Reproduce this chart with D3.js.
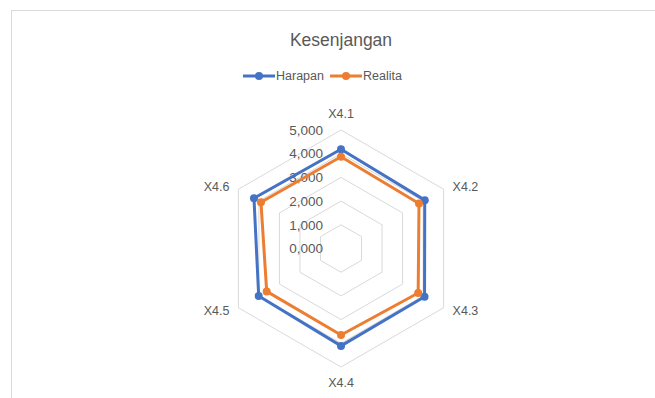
<!DOCTYPE html>
<html>
<head>
<meta charset="utf-8">
<script src="https://cdn.jsdelivr.net/npm/d3@7"></script>
<style>
  body { margin: 0; background: #fff; }
  text { font-family: "Liberation Sans", "DejaVu Sans", sans-serif; fill: #595959; }
</style>
</head>
<body>
<script>
const WIDTH = 655;
const HEIGHT = 398;
const CX = 341;
const CY = 248.5;
const RADIUS = 118.5;

const categories = ["X4.1", "X4.2", "X4.3", "X4.4", "X4.5", "X4.6"];
const harapan = [4.19, 4.08, 4.07, 4.11, 4.01, 4.24];
const realita = [3.87, 3.80, 3.76, 3.65, 3.62, 3.90];
const ticks = [0, 1, 2, 3, 4, 5];
const seriesNames = ["Harapan", "Realita"];
const colors = ["#4472C4", "#ED7D31"];

const svg = d3.select("body").append("svg")
    .attr("width", WIDTH)
    .attr("height", HEIGHT);

// chart frame (runs off the right/bottom edge in the picture)
svg.append("rect")
    .attr("x", 11.5).attr("y", 10.5)
    .attr("width", 700).attr("height", 420)
    .attr("fill", "none")
    .attr("stroke", "#d9d9d9");

const r = d3.scaleLinear().domain([0, 5]).range([0, RADIUS]);
const angle = d3.scalePoint().domain(categories).range([0, 2 * Math.PI * 5 / 6]);

function px(cat, v) { return CX + r(v) * Math.sin(angle(cat)); }
function py(cat, v) { return CY - r(v) * Math.cos(angle(cat)); }

const g = svg.append("g");

// grid hexagons
g.selectAll(".grid")
    .data(ticks.slice(1)).enter()
    .append("polygon")
    .attr("class", "grid")
    .attr("points", t => categories.map(c => px(c, t) + "," + py(c, t)).join(" "))
    .attr("fill", "none")
    .attr("stroke", "#d9d9d9")
    .attr("stroke-width", 1);

// value labels along first axis
g.selectAll(".ticklabel")
    .data(ticks).enter()
    .append("text")
    .attr("class", "ticklabel")
    .attr("x", CX - 18)
    .attr("y", t => CY - r(t))
    .attr("dy", "0.35em")
    .attr("text-anchor", "end")
    .attr("font-size", 13.5)
    .text(t => d3.format(".3f")(t).replace(".", ","));

// category labels
g.selectAll(".catlabel")
    .data(categories).enter()
    .append("text")
    .attr("class", "catlabel")
    .attr("font-size", 12.5)
    .attr("x", c => {
        const s = Math.sin(angle(c));
        return px(c, 5) + (Math.abs(s) < 0.1 ? 0 : (s > 0 ? 9 : -9));
    })
    .attr("y", c => {
        const co = Math.cos(angle(c));
        if (co > 0.9) return py(c, 5) - 16;
        if (co < -0.9) return py(c, 5) + 16;
        return py(c, 5) + (co > 0 ? -3 : 3);
    })
    .attr("dy", "0.35em")
    .attr("text-anchor", c => {
        const s = Math.sin(angle(c));
        return Math.abs(s) < 0.1 ? "middle" : (s > 0 ? "start" : "end");
    })
    .text(c => c);

// series
const line = d3.lineRadial()
    .angle((d, i) => angle(categories[i]))
    .radius(d => r(d))
    .curve(d3.curveLinearClosed);

[harapan, realita].forEach((vals, k) => {
    const sg = g.append("g");
    sg.append("path")
        .datum(vals)
        .attr("transform", `translate(${CX},${CY})`)
        .attr("d", line)
        .attr("fill", "none")
        .attr("stroke", colors[k])
        .attr("stroke-width", 3)
        .attr("stroke-linejoin", "round");
    sg.selectAll("circle")
        .data(vals).enter()
        .append("circle")
        .attr("cx", (d, i) => px(categories[i], d))
        .attr("cy", (d, i) => py(categories[i], d))
        .attr("r", 4)
        .attr("fill", colors[k]);
});

// title
svg.append("text")
    .attr("x", CX)
    .attr("y", 46)
    .attr("text-anchor", "middle")
    .attr("font-size", 17.5)
    .text("Kesenjangan");

// legend
const legendX = [243, 330];
const leg = svg.selectAll(".legend")
    .data(seriesNames).enter()
    .append("g")
    .attr("class", "legend")
    .attr("transform", (d, i) => `translate(${legendX[i]},76)`);
leg.append("line")
    .attr("x1", 0).attr("x2", 32)
    .attr("stroke", (d, i) => colors[i])
    .attr("stroke-width", 3);
leg.append("circle")
    .attr("cx", 16).attr("r", 4)
    .attr("fill", (d, i) => colors[i]);
leg.append("text")
    .attr("x", 33)
    .attr("dy", "0.35em")
    .attr("font-size", 12.5)
    .text(d => d);
</script>
</body>
</html>
